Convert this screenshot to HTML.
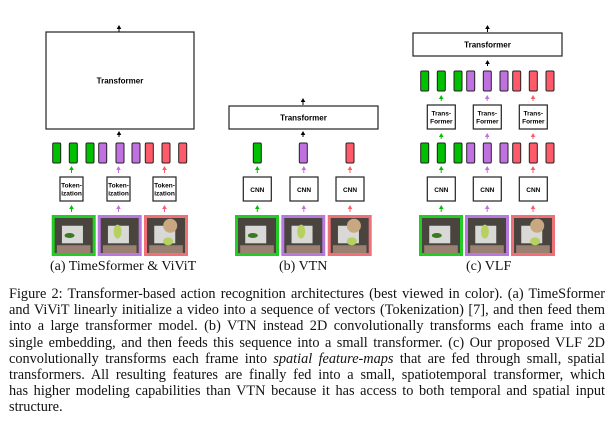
<!DOCTYPE html>
<html><head><meta charset="utf-8"><style>
html,body{margin:0;padding:0;background:#fff;width:616px;height:424px;overflow:hidden;position:relative}
svg{position:absolute;left:0;top:0}
.cap{position:absolute;left:9px;width:596px;font-family:"Liberation Serif",serif;font-size:14.3px;line-height:16.2px;color:#111}
.ln{text-align:justify;text-align-last:justify;white-space:nowrap;height:16.2px}
.ln.last{text-align-last:left}
.sub{position:absolute;font-family:"Liberation Serif",serif;font-size:14px;color:#111;white-space:nowrap}
</style></head><body>
<svg id="s" width="616" height="424" xmlns="http://www.w3.org/2000/svg"></svg>
<div class="sub" style="left:50px;top:259px">(a) TimeSformer &amp; ViViT</div>
<div class="sub" style="left:279px;top:259px">(b) VTN</div>
<div class="sub" style="left:466px;top:259px">(c) VLF</div>
<div class="cap" style="top:286px">
<div class="ln">Figure 2: Transformer-based action recognition architectures (best viewed in color). (a) TimeSformer</div>
<div class="ln">and ViViT linearly initialize a video into a sequence of vectors (Tokenization) [7], and then feed them</div>
<div class="ln">into a large transformer model. (b) VTN instead 2D convolutionally transforms each frame into a</div>
<div class="ln">single embedding, and then feeds this sequence into a small transformer. (c) Our proposed VLF 2D</div>
<div class="ln">convolutionally transforms each frame into <i>spatial feature-maps</i> that are fed through small, spatial</div>
<div class="ln">transformers. All resulting features are finally fed into a small, spatiotemporal transformer, which</div>
<div class="ln">has higher modeling capabilities than VTN because it has access to both temporal and spatial input</div>
<div class="ln last">structure.</div>
</div>
<script>
const s=document.getElementById('s');let h='';
const G='#00c000',P='#c070e0',R='#ff5a6a';
const GB='#22cc22',PB='#b878e0',RB='#f07078';
function box(x,y,w,hh,t,fs){h+=`<rect x="${x}" y="${y}" width="${w}" height="${hh}" fill="#fff" stroke="#222" stroke-width="1.2"/>`;
 if(Array.isArray(t)){h+=`<text x="${x+w/2}" y="${y+hh/2-1.5}" font-family="Liberation Sans,sans-serif" font-weight="bold" font-size="${fs}" text-anchor="middle">${t[0]}</text><text x="${x+w/2}" y="${y+hh/2+6.5}" font-family="Liberation Sans,sans-serif" font-weight="bold" font-size="${fs}" text-anchor="middle">${t[1]}</text>`;}
 else h+=`<text x="${x+w/2}" y="${y+hh/2+3}" font-family="Liberation Sans,sans-serif" font-weight="bold" font-size="${fs}" text-anchor="middle">${t}</text>`;}
function arr(x,y1,y2,c){h+=`<line x1="${x}" y1="${y2}" x2="${x}" y2="${y1+3}" stroke="${c}" stroke-width="1"/><path d="M${x-2.3} ${y1+4}L${x} ${y1}L${x+2.3} ${y1+4}Z" fill="${c}"/>`;}
function tok(x,y,c,hh){h+=`<rect x="${x}" y="${y}" width="8" height="${hh||20}" rx="1.2" fill="${c}" stroke="#222" stroke-width="1"/>`;}
function img(x,y,w,hh,b,k){h+=`<rect x="${x}" y="${y}" width="${w}" height="${hh}" fill="#4a443e" stroke="${b}" stroke-width="2"/>`;
 h+=`<rect x="${x+w*0.22}" y="${y+hh*0.25}" width="${w*0.5}" height="${hh*0.45}" fill="#d8d8d6"/>`;
 h+=`<rect x="${x+w*0.1}" y="${y+hh*0.75}" width="${w*0.8}" height="${hh*0.23}" fill="#9a8070"/>`;
 if(k==0)h+=`<ellipse cx="${x+w*0.4}" cy="${y+hh*0.5}" rx="5" ry="2.5" fill="#3a7a20"/>`;
 if(k==1)h+=`<ellipse cx="${x+w*0.45}" cy="${y+hh*0.4}" rx="4" ry="7" fill="#b8d060"/>`;
 if(k==2){h+=`<circle cx="${x+w*0.6}" cy="${y+hh*0.25}" r="7" fill="#c8a880"/><ellipse cx="${x+w*0.55}" cy="${y+hh*0.65}" rx="5" ry="4" fill="#b8d060"/>`;}
 h+=`<rect x="${x+1}" y="${y+1}" width="${w-2}" height="${hh-2}" fill="none" stroke="${b}" stroke-width="2"/>`;}
const cols=[G,P,R],bcs=[GB,PB,RB];
box(46,32,148,97,'Transformer',8);arr(119,25,32,'#000');arr(119,131,137,'#000');
[52.7,69.3,86,98.7,116,132,145.3,162,178.7].forEach((x,i)=>tok(x,143,cols[Math.floor(i/3)]));
[[60,71.5],[107,118.5],[153,164.5]].forEach(([x,c],i)=>{box(x,177,23,24,['Token-','ization'],6.5);arr(c,166,173,cols[i]);arr(c,205,212,cols[i]);});
[52.7,98.7,145].forEach((x,i)=>img(x,216,42,39,bcs[i],i));
box(229,106,149,23,'Transformer',8);arr(303,98,105,'#000');arr(303,131,137,'#000');
[253.3,299.3,346].forEach((x,i)=>tok(x,143,cols[i]));
[[243.3,257.3],[290,303.8],[336,350]].forEach(([x,c],i)=>{box(x,177,28,24,'CNN',6.5);arr(c,166,173,cols[i]);arr(c,205,212,cols[i]);});
[236,282.3,328.7].forEach((x,i)=>img(x,216,42,39,bcs[i],i));
box(413,33,149,23,'Transformer',8);arr(487.5,25,32,'#000');arr(487.5,60,66,'#000');
const cx=[420.7,437.3,454,466.7,483.3,500,512.7,529.3,546];
cx.forEach((x,i)=>{tok(x,71,cols[Math.floor(i/3)]);tok(x,143,cols[Math.floor(i/3)]);});
[[427.3,441.2],[473.3,487.2],[519.3,533]].forEach(([x,c],i)=>{box(x,105,28,24,['Trans-','Former'],6.5);box(x,177,28,24,'CNN',6.5);
 arr(c,95,101,cols[i]);arr(c,133,139,cols[i]);arr(c,166,173,cols[i]);arr(c,205,212,cols[i]);});
[420,466,512].forEach((x,i)=>img(x,216,42,39,bcs[i],i));
s.innerHTML=h;
</script>
</body></html>
